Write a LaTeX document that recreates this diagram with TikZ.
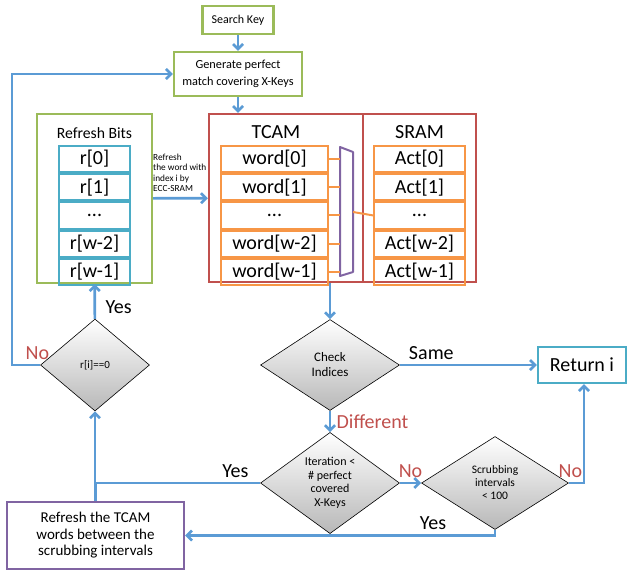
\documentclass[tikz,border=0pt]{standalone}
\usepackage{fontspec}
\setmainfont{Carlito}
\usetikzlibrary{arrows.meta,positioning,shapes.geometric}
\definecolor{flowblue}{RGB}{91,155,213}
\definecolor{boxgreen}{RGB}{155,187,89}
\definecolor{cellcyan}{RGB}{75,172,198}
\definecolor{cellorange}{RGB}{247,150,70}
\definecolor{memred}{RGB}{192,80,77}
\definecolor{muxpurple}{RGB}{128,100,162}
\newcommand{\fsz}[2]{\fontsize{#1}{#2}\selectfont}

\begin{document}
\begin{tikzpicture}[x=1pt, y=-1pt,
  gbox/.style={draw=boxgreen, line width=2.2pt, fill=white, align=center, inner sep=0pt, font=\fsz{12}{14}},
  membox/.style={draw=memred, line width=2.2pt, inner sep=0pt, minimum height=168pt},
  rcell/.style={draw=cellcyan, line width=2pt, minimum width=71pt, minimum height=26.2pt, inner sep=0pt, font=\fsz{20}{22}},
  wcell/.style={draw=cellorange, line width=2pt, minimum width=107pt, minimum height=26.2pt, inner sep=0pt, font=\fsz{20}{22}},
  acell/.style={draw=cellorange, line width=2pt, minimum width=91pt, minimum height=26.2pt, inner sep=0pt, font=\fsz{20}{22}},
  decide/.style={diamond, draw, line width=0.6pt, top color=white, bottom color=black!28, align=center, inner sep=0pt, font=\fsz{11}{13}},
  arr/.style={-{Straight Barb[length=5pt, width=10pt]}, flowblue, line width=2.7pt},
  line/.style={flowblue, line width=2.7pt},
  wire/.style={cellorange, line width=2pt},
  lbl/.style={font=\fsz{20}{22}, text=black},
  nolbl/.style={font=\fsz{20}{22}, text=memred},
]
  \useasboundingbox (0,0) rectangle (628,574);

  % top of the flow
  \node[gbox, minimum width=71pt, minimum height=28pt] (key) at (238,20) {Search Key};
  \node[gbox, minimum width=128pt, minimum height=44pt, align=center, font=\fsz{12.3}{16.5}] (gen) at (238,74) {Generate perfect\\match covering X-Keys};
  \draw[arr] (key) -- (gen);

  % refresh bits
  \node[gbox, minimum width=115pt, minimum height=169pt] (bits) at (94.5,198.5) {};
  \node[font=\fsz{15.7}{18}] (bitsttl) at (94.5,133) {Refresh Bits};
  \node[rcell] (r0) at (94.5,159) {r[0]};
  \node[rcell, below=0pt of r0] (r1) {r[1]};
  \node[rcell, below=0pt of r1] (r2) {...};
  \node[rcell, below=0pt of r2] (r3) {r[w-2]};
  \node[rcell, below=0pt of r3] (r4) {r[w-1]};

  % TCAM and SRAM
  \node[membox, minimum width=154pt] (tcam) at (286,198) {};
  \node[membox, minimum width=113pt] (sram) at (419.5,198) {};
  \node[font=\fsz{20}{22}] (tcamttl) at (276,132) {TCAM};
  \node[font=\fsz{20}{22}] (sramttl) at (419.5,132) {SRAM};
  \node[wcell] (w0) at (274.5,159) {word[0]};
  \node[wcell, below=0pt of w0] (w1) {word[1]};
  \node[wcell, below=0pt of w1] (w2) {...};
  \node[wcell, below=0pt of w2] (w3) {word[w-2]};
  \node[wcell, below=0pt of w3] (w4) {word[w-1]};
  \node[acell] (a0) at (419.5,159) {Act[0]};
  \node[acell, below=0pt of a0] (a1) {Act[1]};
  \node[acell, below=0pt of a1] (a2) {...};
  \node[acell, below=0pt of a2] (a3) {Act[w-2]};
  \node[acell, below=0pt of a3] (a4) {Act[w-1]};

  % mux between the words and the actions
  \coordinate (muxl) at (340,212);
  \coordinate (muxr) at (353,212);
  \draw[muxpurple, line width=2pt, line join=round] (340,147) -- (353,152) -- (353,272) -- (340,276) -- cycle;
  \foreach \i in {0,...,4}
    \draw[wire] (w\i.east) -- (w\i.east -| muxl);
  \draw[wire] (muxr) -- (a2.west);

  \draw[arr] (gen) -- (gen |- tcam.north);
  \draw[arr] (bits) -- (tcam);
  \node[anchor=south west, align=left, font=\fsz{9.3}{10.4}, inner sep=0pt] (refrlbl) at (153,192) {Refresh\\the word with\\index i by\\ECC-SRAM};

  % decisions
  \node[decide, minimum width=109pt, minimum height=92pt, font=\fsz{11}{13}] (rzero) at (95,365) {r[i]==0};
  \node[decide, minimum width=139pt, minimum height=91pt, font=\fsz{13}{15}] (chk) at (330,365) {Check\\Indices};
  \node[decide, minimum width=139pt, minimum height=93pt, font=\fsz{12}{13.5}] (iter) at (330,483) {Iteration <\\\# perfect\\covered\\X-Keys};
  \node[decide, minimum width=147pt, minimum height=93pt, font=\fsz{11.5}{13}] (scrub) at (495,483) {Scrubbing\\intervals\\< 100};

  \node[draw=cellcyan, line width=2.2pt, minimum width=88pt, minimum height=36pt, font=\fsz{20}{22}] (ret) at (582,365) {Return i};
  \node[draw=muxpurple, line width=2.2pt, minimum width=177pt, minimum height=67pt, align=center, font=\fsz{15}{16.5}] (refr) at (95.5,535.5) {Refresh the TCAM\\words between the\\scrubbing intervals};

  % flow arrows
  \draw[arr] (chk.north |- tcam.south) -- (chk);
  \draw[arr] (chk) -- node[lbl, above=1pt, pos=0.23]{Same} (ret);
  \draw[arr] (chk) -- node[nolbl, right=2pt]{Different} (iter);
  \draw[arr] (iter) -- node[nolbl, above=1pt]{No} (scrub);
  \draw[arr] (scrub.east) -- node[nolbl, above=1pt, xshift=-6pt]{No} ++(15,0) -| (ret.south -| 584,0);
  \draw[arr] (scrub.south) |- node[lbl, pos=0.6, above=1pt]{Yes} (refr.east);
  \draw[line] (refr.north) -- (refr.north |- iter.west);
  \draw[arr] (iter.west) -- node[lbl, above=1pt, pos=0.15]{Yes} (iter.west -| rzero.south) -- (rzero.south);
  \draw[arr] (rzero) -- node[lbl, right=6pt, pos=0.33]{Yes} (bits);
  \draw[arr] (rzero.west) -- node[nolbl, above=1pt, pos=0.1]{No} (12,365) |- (gen.west);
\end{tikzpicture}
\end{document}
